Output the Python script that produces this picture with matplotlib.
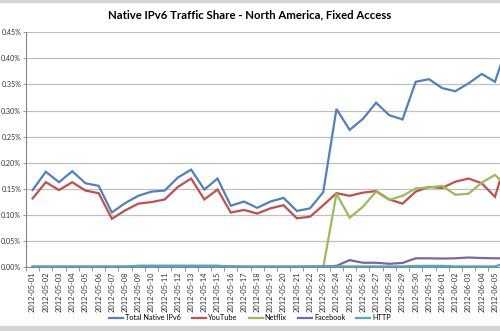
import matplotlib
matplotlib.use("Agg")
import matplotlib.pyplot as plt
from matplotlib.ticker import FuncFormatter, MultipleLocator, FixedLocator
from matplotlib.patches import Rectangle

plt.rcParams['font.family'] = ['Lato', 'DejaVu Sans']

# dates (the last one, launch day, is cut off at the right edge of the original)
dates = ["2012-05-%02d" % d for d in range(1, 32)] + ["2012-06-%02d" % d for d in range(1, 7)]

# traffic share in percent
total_ipv6 = [0.148, 0.183, 0.163, 0.184, 0.161, 0.156, 0.105, 0.123, 0.137, 0.145,
              0.147, 0.172, 0.187, 0.149, 0.170, 0.118, 0.126, 0.114, 0.126, 0.133,
              0.108, 0.113, 0.144, 0.303, 0.263, 0.284, 0.315, 0.291, 0.283, 0.355,
              0.360, 0.343, 0.337, 0.352, 0.370, 0.355, 0.430]
youtube = [0.132, 0.163, 0.148, 0.163, 0.147, 0.142, 0.093, 0.109, 0.122, 0.125,
           0.130, 0.154, 0.170, 0.130, 0.149, 0.105, 0.110, 0.103, 0.113, 0.119,
           0.094, 0.097, 0.119, 0.142, 0.137, 0.143, 0.146, 0.130, 0.122, 0.145,
           0.154, 0.152, 0.164, 0.170, 0.161, 0.135, 0.218]
netflix = [0.0, 0.0, 0.0, 0.0, 0.0, 0.0, 0.0, 0.0, 0.0, 0.0,
           0.0, 0.0, 0.0, 0.0, 0.0, 0.0, 0.0, 0.0, 0.0, 0.0,
           0.0, 0.0, 0.0, 0.141, 0.095, 0.116, 0.145, 0.129, 0.137, 0.151,
           0.153, 0.156, 0.139, 0.141, 0.162, 0.177, 0.152]
facebook = [0.001, 0.001, 0.001, 0.001, 0.001, 0.001, 0.001, 0.001, 0.003, 0.003,
            0.003, 0.003, 0.003, 0.003, 0.003, 0.002, 0.001, 0.001, 0.001, 0.001,
            0.001, 0.002, 0.002, 0.003, 0.014, 0.009, 0.009, 0.007, 0.0086, 0.0175,
            0.0175, 0.017, 0.0175, 0.019, 0.018, 0.0175, 0.0175]
http = [0.002, 0.002, 0.002, 0.002, 0.002, 0.002, 0.002, 0.002, 0.003, 0.003,
        0.003, 0.003, 0.003, 0.003, 0.003, 0.002, 0.002, 0.002, 0.002, 0.002,
        0.002, 0.002, 0.002, 0.002, 0.002, 0.002, 0.002, 0.002, 0.002, 0.003,
        0.003, 0.003, 0.002, 0.002, 0.002, 0.002, 0.010]

series = [("Total Native IPv6", total_ipv6, "#4F81BD"),
          ("YouTube", youtube, "#C0504D"),
          ("Netflix", netflix, "#9BBB59"),
          ("Facebook", facebook, "#8064A2"),
          ("HTTP", http, "#4BACC6")]

fig = plt.figure(figsize=(5.0, 3.31), dpi=100)
ax = fig.add_axes([0.052, 0.192, 0.948, 0.711])

x = list(range(len(dates)))
for name, vals, col in series:
    ax.plot(x, vals, color=col, lw=1.6, label=name, solid_joinstyle='miter')

ax.set_xticks(x)
ax.set_xticklabels(dates, rotation=90, fontsize=5.4, color='#333333')
ax.xaxis.set_minor_locator(FixedLocator([i - 0.5 for i in x]))

# limits after the ticks, so set_xticks does not widen them
ax.set_ylim(0, 0.45)
ax.set_xlim(-0.5, 35.38)
ax.yaxis.set_major_locator(MultipleLocator(0.05))
ax.yaxis.set_major_formatter(FuncFormatter(lambda v, p: "%.2f%%" % v))
ax.grid(axis='y', color='#c0c0c0', lw=0.9)
ax.set_axisbelow(True)

ax.tick_params(axis='x', which='major', length=0, pad=3)
ax.tick_params(axis='x', which='minor', length=3, color='#868686', width=0.6)
ax.tick_params(axis='y', length=2.5, color='#868686', width=0.6, labelsize=5.1,
               labelcolor='#333333', pad=1)

for s in ['top', 'right']:
    ax.spines[s].set_visible(False)
for s in ['left', 'bottom']:
    ax.spines[s].set_color('#868686')
    ax.spines[s].set_linewidth(0.8)

fig.text(0.5, 0.955, "Native IPv6 Traffic Share - North America, Fixed Access",
         ha='center', va='center', fontsize=8.2, fontweight='bold')

fig.legend(loc='center', bbox_to_anchor=(0.5, 0.04), ncol=5, frameon=False,
           fontsize=5.3, handlelength=1.9, columnspacing=1.5, handletextpad=0.3)

# light grey strips at top and bottom of the screenshot
fig.patches.append(Rectangle((0, 0.994), 1, 0.006, transform=fig.transFigure,
                             color='#d4d4d4', zorder=0))
fig.patches.append(Rectangle((0, 0), 1, 0.015, transform=fig.transFigure,
                             color='#d4d4d4', zorder=0))

fig.savefig("out.png", dpi=100)
